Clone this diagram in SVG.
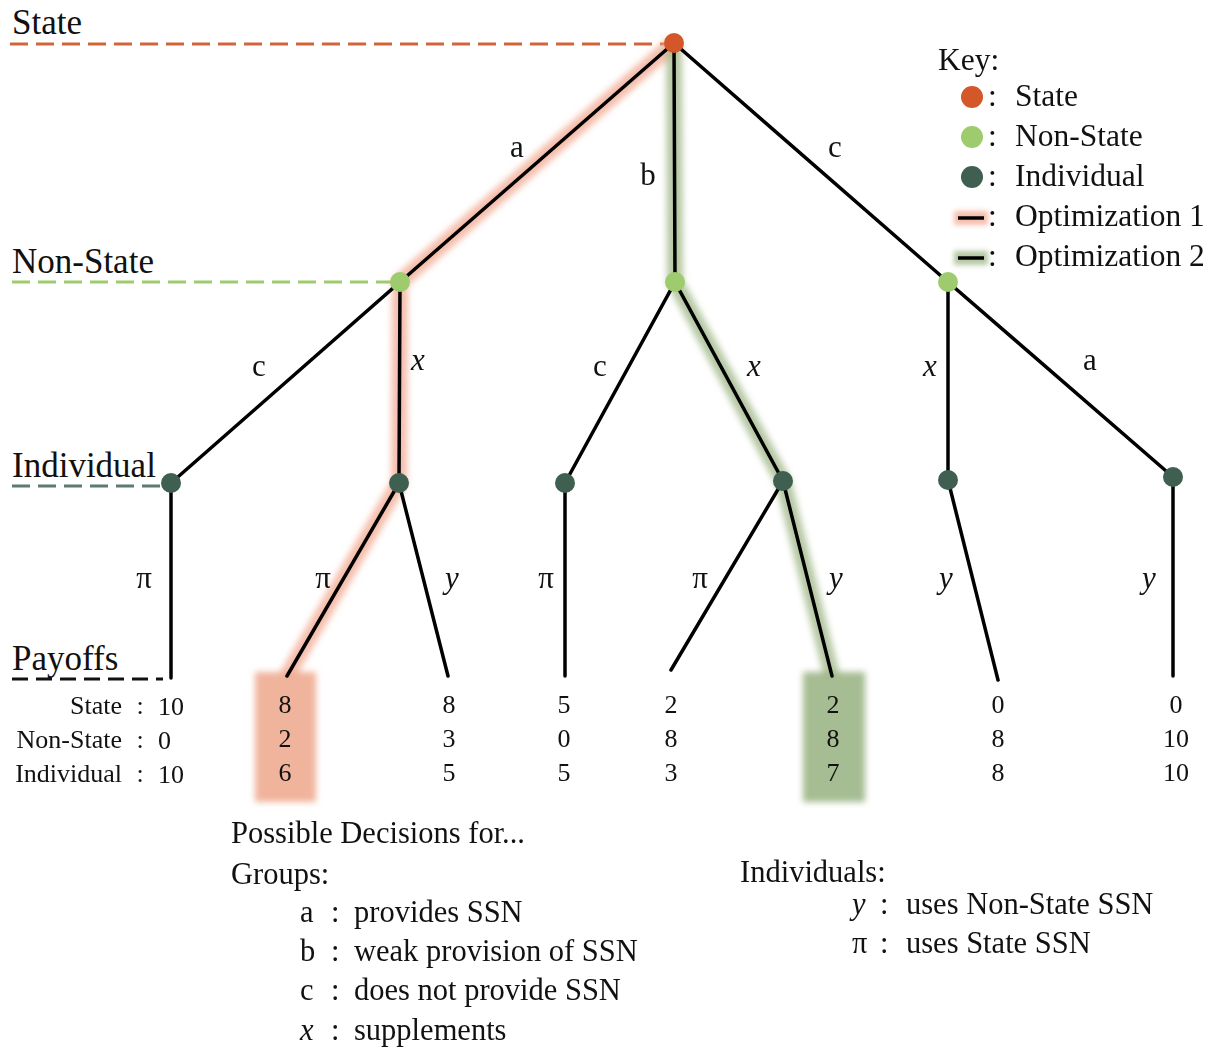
<svg xmlns="http://www.w3.org/2000/svg" width="1222" height="1050" viewBox="0 0 1222 1050">
<style>
text{font-family:"Liberation Serif","DejaVu Serif",serif;fill:#111}
.lvl{font-size:35px}
.key{font-size:31.5px}
.el{font-size:31px}
.it{font-style:italic}
.pay{font-size:26px}
.num{font-size:26px;text-anchor:middle}
.leg{font-size:30.5px}
.edge{stroke:#000;stroke-width:3.5;fill:none;stroke-linecap:round}
.g1{stroke:#F2A890;stroke-width:16;fill:none;stroke-linejoin:round;opacity:0.75}
.g2{stroke:#9DB585;stroke-width:16;fill:none;stroke-linejoin:round;opacity:0.75}
.st{fill:#D4572A}.ns{fill:#9DCB6E}.ind{fill:#3F5F51}
</style>
<defs>
<filter id="blur" x="-20%" y="-20%" width="140%" height="140%"><feGaussianBlur stdDeviation="3"/></filter>
<filter id="blur2" x="-50%" y="-100%" width="200%" height="300%"><feGaussianBlur stdDeviation="2.5"/></filter>
</defs>
<rect width="1222" height="1050" fill="#fff"/>

<g id="levels">
<line x1="10" y1="44" x2="668" y2="44" stroke="#D0643A" stroke-width="3" stroke-dasharray="18 8"/>
<line x1="12" y1="282" x2="395" y2="282" stroke="#9DCB6E" stroke-width="3" stroke-dasharray="18 8"/>
<line x1="12" y1="486" x2="165" y2="486" stroke="#5C7B6C" stroke-width="3" stroke-dasharray="18 8"/>
<line x1="12" y1="679" x2="163" y2="679" stroke="#111" stroke-width="3" stroke-dasharray="16 8"/>
<text class="lvl" x="12" y="34">State</text>
<text class="lvl" x="12" y="273">Non-State</text>
<text class="lvl" x="12" y="477">Individual</text>
<text class="lvl" x="12" y="670">Payoffs</text>
</g>

<g id="highlights" filter="url(#blur)">
<rect x="255" y="672" width="61" height="130" fill="#F0B49C"/>
<rect x="803" y="672" width="62" height="130" fill="#A6BC92"/>
<polyline class="g1" points="674,43 400,282 399,483 287,676"/>
<polyline class="g2" points="674,43 675,282 783,481 832,676"/>
</g>

<g id="connectors">
<line class="edge" x1="674" y1="43" x2="400" y2="282"/>
<line class="edge" x1="674" y1="43" x2="675" y2="282"/>
<line class="edge" x1="674" y1="43" x2="948" y2="282"/>
<line class="edge" x1="400" y1="282" x2="171" y2="483"/>
<line class="edge" x1="400" y1="282" x2="399" y2="483"/>
<line class="edge" x1="675" y1="282" x2="565" y2="483"/>
<line class="edge" x1="675" y1="282" x2="783" y2="481"/>
<line class="edge" x1="948" y1="282" x2="948" y2="480"/>
<line class="edge" x1="948" y1="282" x2="1173" y2="477"/>
<line class="edge" x1="171" y1="483" x2="171" y2="678"/>
<line class="edge" x1="399" y1="483" x2="287" y2="676"/>
<line class="edge" x1="399" y1="483" x2="448" y2="676"/>
<line class="edge" x1="565" y1="483" x2="565" y2="676"/>
<line class="edge" x1="783" y1="481" x2="671" y2="670"/>
<line class="edge" x1="783" y1="481" x2="832" y2="676"/>
<line class="edge" x1="948" y1="480" x2="998" y2="680"/>
<line class="edge" x1="1173" y1="477" x2="1173" y2="676"/>
<text class="el" x="517" y="157" text-anchor="middle">a</text>
<text class="el" x="648" y="185" text-anchor="middle">b</text>
<text class="el" x="835" y="157" text-anchor="middle">c</text>
<text class="el" x="259" y="376" text-anchor="middle">c</text>
<text class="el it" x="418" y="370" text-anchor="middle">x</text>
<text class="el" x="600" y="376" text-anchor="middle">c</text>
<text class="el it" x="754" y="376" text-anchor="middle">x</text>
<text class="el it" x="930" y="376" text-anchor="middle">x</text>
<text class="el" x="1090" y="370" text-anchor="middle">a</text>
<text class="el" x="144" y="588" text-anchor="middle">π</text>
<text class="el" x="323" y="588" text-anchor="middle">π</text>
<text class="el it" x="452" y="588" text-anchor="middle">y</text>
<text class="el" x="546" y="588" text-anchor="middle">π</text>
<text class="el" x="700" y="588" text-anchor="middle">π</text>
<text class="el it" x="836" y="588" text-anchor="middle">y</text>
<text class="el it" x="946" y="588" text-anchor="middle">y</text>
<text class="el it" x="1149" y="588" text-anchor="middle">y</text>
</g>

<g id="node-state"><circle class="st" cx="674" cy="43" r="10"/></g>
<g id="node-ns1"><circle class="ns" cx="400" cy="282" r="10"/></g>
<g id="node-ns2"><circle class="ns" cx="675" cy="282" r="10"/></g>
<g id="node-ns3"><circle class="ns" cx="948" cy="282" r="10"/></g>
<g id="node-i1"><circle class="ind" cx="171" cy="483" r="10"/></g>
<g id="node-i2"><circle class="ind" cx="399" cy="483" r="10"/></g>
<g id="node-i3"><circle class="ind" cx="565" cy="483" r="10"/></g>
<g id="node-i4"><circle class="ind" cx="783" cy="481" r="10"/></g>
<g id="node-i5"><circle class="ind" cx="948" cy="480" r="10"/></g>
<g id="node-i6"><circle class="ind" cx="1173" cy="477" r="10"/></g>

<g id="payoffs">
<text class="pay" x="122" y="714" text-anchor="end">State</text>
<text class="pay" x="122" y="748" text-anchor="end">Non-State</text>
<text class="pay" x="122" y="782" text-anchor="end">Individual</text>
<text class="pay" x="140" y="714" text-anchor="middle">:</text>
<text class="pay" x="140" y="748" text-anchor="middle">:</text>
<text class="pay" x="140" y="782" text-anchor="middle">:</text>
<text class="pay" x="158" y="715">10</text>
<text class="pay" x="158" y="749">0</text>
<text class="pay" x="158" y="783">10</text>
<text class="num" x="285" y="713">8</text><text class="num" x="285" y="747">2</text><text class="num" x="285" y="781">6</text>
<text class="num" x="449" y="713">8</text><text class="num" x="449" y="747">3</text><text class="num" x="449" y="781">5</text>
<text class="num" x="564" y="713">5</text><text class="num" x="564" y="747">0</text><text class="num" x="564" y="781">5</text>
<text class="num" x="671" y="713">2</text><text class="num" x="671" y="747">8</text><text class="num" x="671" y="781">3</text>
<text class="num" x="833" y="713">2</text><text class="num" x="833" y="747">8</text><text class="num" x="833" y="781">7</text>
<text class="num" x="998" y="713">0</text><text class="num" x="998" y="747">8</text><text class="num" x="998" y="781">8</text>
<text class="num" x="1176" y="713">0</text><text class="num" x="1176" y="747">10</text><text class="num" x="1176" y="781">10</text>
</g>

<g id="key">
<text class="key" x="938" y="70">Key:</text>
<circle class="st" cx="972" cy="97" r="11"/>
<circle class="ns" cx="972" cy="137" r="11"/>
<circle class="ind" cx="972" cy="177" r="11"/>
<rect x="954" y="211" width="34" height="14" fill="#F2A890" opacity="0.75" filter="url(#blur2)"/>
<rect x="954" y="251" width="34" height="14" fill="#9DB585" opacity="0.75" filter="url(#blur2)"/>
<line x1="958" y1="218" x2="984" y2="218" stroke="#000" stroke-width="3.5"/>
<line x1="958" y1="258" x2="984" y2="258" stroke="#000" stroke-width="3.5"/>
<text class="key" x="988" y="106">:</text>
<text class="key" x="988" y="146">:</text>
<text class="key" x="988" y="186">:</text>
<text class="key" x="988" y="226">:</text>
<text class="key" x="988" y="266">:</text>
<text class="key" x="1015" y="106">State</text>
<text class="key" x="1015" y="146">Non-State</text>
<text class="key" x="1015" y="186">Individual</text>
<text class="key" x="1015" y="226">Optimization 1</text>
<text class="key" x="1015" y="266">Optimization 2</text>
</g>

<g id="legend">
<text class="leg" x="231" y="843">Possible Decisions for...</text>
<text class="leg" x="231" y="884">Groups:</text>
<text class="leg" x="300" y="922">a</text><text class="leg" x="331" y="922">:</text><text class="leg" x="354" y="922">provides SSN</text>
<text class="leg" x="300" y="961">b</text><text class="leg" x="331" y="961">:</text><text class="leg" x="354" y="961">weak provision of SSN</text>
<text class="leg" x="300" y="1000">c</text><text class="leg" x="331" y="1000">:</text><text class="leg" x="354" y="1000">does not provide SSN</text>
<text class="leg it" x="300" y="1040">x</text><text class="leg" x="331" y="1040">:</text><text class="leg" x="354" y="1040">supplements</text>
<text class="leg" x="740" y="882">Individuals:</text>
<text class="leg it" x="852" y="914">y</text><text class="leg" x="880" y="914">:</text><text class="leg" x="906" y="914">uses Non-State SSN</text>
<text class="leg" x="852" y="953">π</text><text class="leg" x="880" y="953">:</text><text class="leg" x="906" y="953">uses State SSN</text>
</g>
</svg>
